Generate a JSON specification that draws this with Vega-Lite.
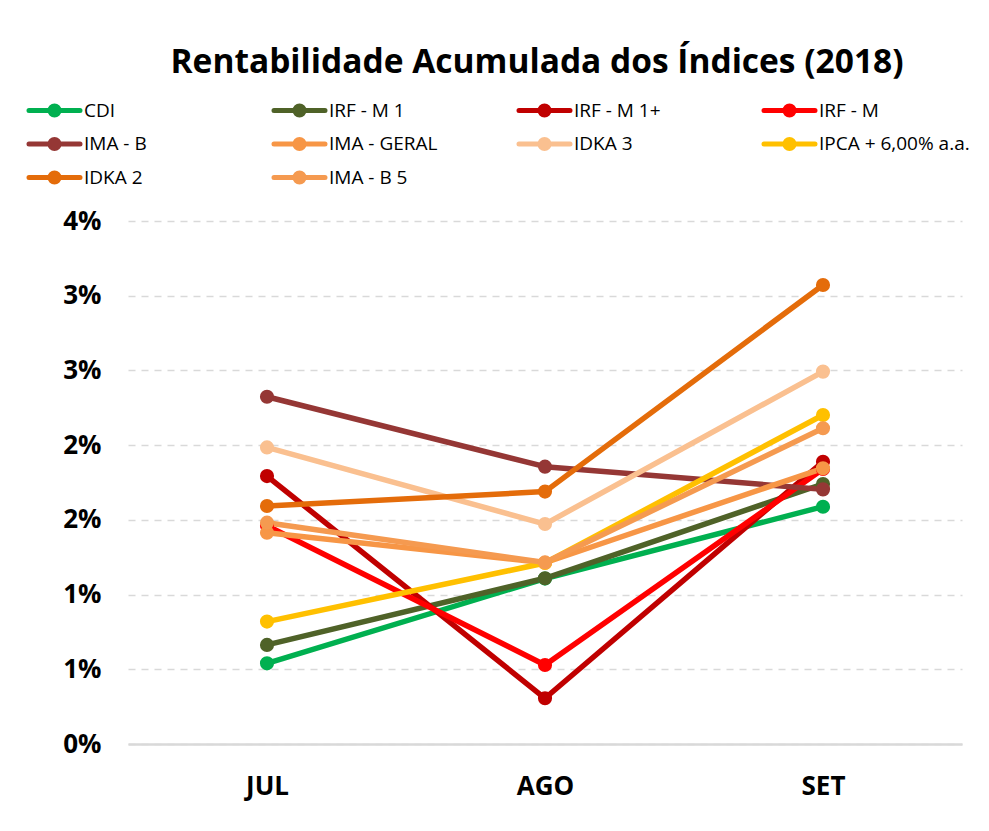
{
  "$schema": "https://vega.github.io/schema/vega-lite/v6.json",
  "width": 834,
  "height": 523,
  "autosize": {"type": "none"},
  "padding": {"left": 128, "top": 221, "right": 27, "bottom": 87},
  "background": "white",
  "view": {"stroke": null},
  "title": {
    "text": "Rentabilidade Acumulada dos Índices (2018)",
    "font": "Open Sans",
    "fontSize": 33.5,
    "fontWeight": "bold",
    "color": "black",
    "anchor": "middle",
    "frame": "group",
    "dx": -8,
    "baseline": "alphabetic",
    "offset": -8
  },
  "data": {
    "values": [
      {"indice": "CDI", "mes": "JUL", "valor": 0.00540},
      {"indice": "CDI", "mes": "AGO", "valor": 0.01107},
      {"indice": "CDI", "mes": "SET", "valor": 0.01588},
      {"indice": "IRF - M 1", "mes": "JUL", "valor": 0.00663},
      {"indice": "IRF - M 1", "mes": "AGO", "valor": 0.01109},
      {"indice": "IRF - M 1", "mes": "SET", "valor": 0.01740},
      {"indice": "IRF - M 1+", "mes": "JUL", "valor": 0.01793},
      {"indice": "IRF - M 1+", "mes": "AGO", "valor": 0.00306},
      {"indice": "IRF - M 1+", "mes": "SET", "valor": 0.01889},
      {"indice": "IRF - M", "mes": "JUL", "valor": 0.01460},
      {"indice": "IRF - M", "mes": "AGO", "valor": 0.00529},
      {"indice": "IRF - M", "mes": "SET", "valor": 0.01840},
      {"indice": "IMA - B", "mes": "JUL", "valor": 0.02324},
      {"indice": "IMA - B", "mes": "AGO", "valor": 0.01856},
      {"indice": "IMA - B", "mes": "SET", "valor": 0.01704},
      {"indice": "IMA - GERAL", "mes": "JUL", "valor": 0.01414},
      {"indice": "IMA - GERAL", "mes": "AGO", "valor": 0.01213},
      {"indice": "IMA - GERAL", "mes": "SET", "valor": 0.01845},
      {"indice": "IDKA 3", "mes": "JUL", "valor": 0.01985},
      {"indice": "IDKA 3", "mes": "AGO", "valor": 0.01472},
      {"indice": "IDKA 3", "mes": "SET", "valor": 0.02492},
      {"indice": "IPCA + 6,00% a.a.", "mes": "JUL", "valor": 0.00819},
      {"indice": "IPCA + 6,00% a.a.", "mes": "AGO", "valor": 0.01211},
      {"indice": "IPCA + 6,00% a.a.", "mes": "SET", "valor": 0.02202},
      {"indice": "IDKA 2", "mes": "JUL", "valor": 0.01593},
      {"indice": "IDKA 2", "mes": "AGO", "valor": 0.01689},
      {"indice": "IDKA 2", "mes": "SET", "valor": 0.03072},
      {"indice": "IMA - B 5", "mes": "JUL", "valor": 0.01481},
      {"indice": "IMA - B 5", "mes": "AGO", "valor": 0.01215},
      {"indice": "IMA - B 5", "mes": "SET", "valor": 0.02113}
    ]
  },
  "encoding": {
    "x": {
      "field": "mes",
      "type": "ordinal",
      "sort": ["JUL", "AGO", "SET"],
      "scale": {"type": "point", "padding": 0.5},
      "axis": {
        "title": null,
        "labelAngle": 0,
        "labelFont": "Open Sans",
        "labelFontSize": 26,
        "labelFontWeight": "bold",
        "labelColor": "black",
        "ticks": false,
        "grid": false,
        "domainColor": "#d9d9d9",
        "domainWidth": 2.5,
        "labelPadding": 29
      }
    },
    "y": {
      "field": "valor",
      "type": "quantitative",
      "scale": {"domain": [0, 0.035], "nice": false},
      "axis": {
        "title": null,
        "values": [0, 0.005, 0.01, 0.015, 0.02, 0.025, 0.03, 0.035],
        "labelExpr": "round(datum.value*100+0.01) + '%'",
        "labelFont": "Open Sans",
        "labelFontSize": 26,
        "labelFontWeight": "bold",
        "labelColor": "black",
        "labelPadding": 27,
        "ticks": false,
        "domain": false,
        "gridColor": "#d9d9d9",
        "gridDash": [7, 6],
        "gridWidth": 1.3
      }
    },
    "color": {
      "field": "indice",
      "type": "nominal",
      "sort": ["CDI", "IRF - M 1", "IRF - M 1+", "IRF - M", "IMA - B", "IMA - GERAL", "IDKA 3", "IPCA + 6,00% a.a.", "IDKA 2", "IMA - B 5"],
      "scale": {
        "domain": ["CDI", "IRF - M 1", "IRF - M 1+", "IRF - M", "IMA - B", "IMA - GERAL", "IDKA 3", "IPCA + 6,00% a.a.", "IDKA 2", "IMA - B 5"],
        "range": ["#00B050", "#4F6228", "#C00000", "#FF0000", "#953735", "#F79646", "#FAC090", "#FFC000", "#E46C0A", "#F59A50"]
      },
      "legend": {
        "title": null,
        "orient": "none",
        "legendX": -101.5,
        "legendY": -123,
        "direction": "horizontal",
        "columns": 4,
        "gridAlign": "all",
        "padding": 0,
        "symbolType": "M-2.55,0H2.55M0.45,0A0.45,0.45,0,1,1,-0.45,0A0.45,0.45,0,1,1,0.45,0Z",
        "symbolSize": 400,
        "symbolOffset": 15.5,
        "symbolStrokeWidth": 5,
        "labelFont": "Open Sans",
        "labelFontSize": 19,
        "labelColor": "black",
        "labelOffset": 17,
        "labelLimit": 400,
        "columnPadding": 28,
        "rowPadding": 4.5,
        "encode": {
          "symbols": {
            "update": {
              "fill": {"scale": "color", "field": "value"},
              "stroke": {"scale": "color", "field": "value"},
              "strokeWidth": {"value": 5},
              "strokeCap": {"value": "round"},
              "opacity": {"value": 1}
            }
          }
        }
      }
    }
  },
  "layer": [
    {"mark": {"type": "line", "strokeWidth": 5.5, "strokeCap": "round", "strokeJoin": "round"}},
    {"mark": {"type": "point", "filled": true, "size": 200, "opacity": 1}}
  ]
}
